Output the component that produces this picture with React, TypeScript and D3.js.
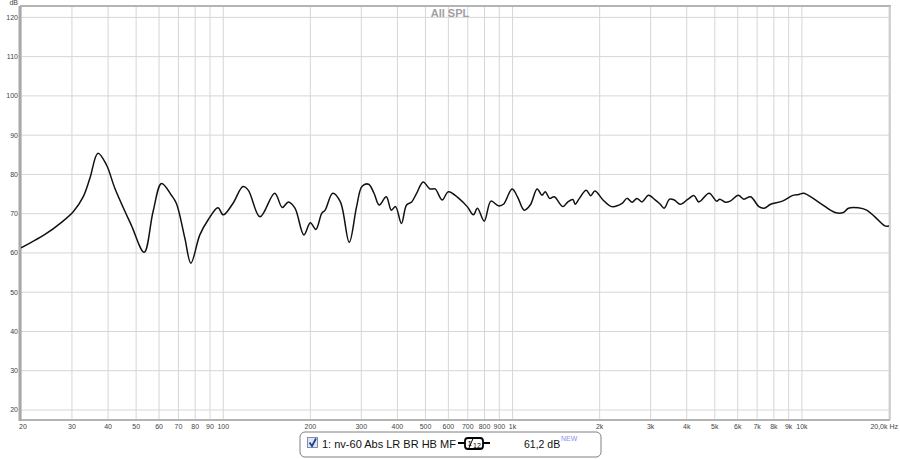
import React from "react";
import * as d3 from "d3";

const freqs = [
  20, 21.7, 24.2, 27.6, 30.3, 32.8, 34.6, 36.9, 39.5, 42.2, 48.1, 53.3, 57.2, 61.2, 66.2, 68.9, 73.7, 77.3, 83, 88.6,
  95.9, 100, 108, 117, 122, 134, 150.6, 160, 168, 177, 190, 200, 209, 219, 225, 239, 254, 272.6, 289, 302,
  318, 332, 346, 366, 381, 394, 413, 430, 448, 466, 491, 518, 540, 571, 600, 652, 697, 732, 756, 798,
  842, 894, 930, 996, 1040, 1097, 1151, 1216, 1264, 1298, 1343, 1394, 1492, 1548, 1616, 1646, 1702, 1796, 1862, 1926,
  2054, 2200, 2390, 2485, 2590, 2690, 2800, 2950, 3110, 3240, 3340, 3490, 3620, 3800, 4040, 4240, 4400, 4780, 5070, 5200,
  5440, 5650, 6030, 6300, 6650, 7100, 7400, 7800, 8560, 9260, 9750, 10140, 10840, 11720, 13020, 13900, 14480, 15660, 16740, 17880,
  19360, 20000,
];
const spl = [
  61.3, 62.7, 64.7, 67.8, 70.5, 74.3, 79.0, 85.4, 82.4, 76.5, 67.1, 60.2, 70.5, 77.7, 74.7, 72.6, 63.7, 57.4, 64.6, 68.4,
  71.5, 69.7, 72.6, 76.9, 76.0, 69.2, 75.2, 71.6, 73.0, 71.4, 64.6, 67.7, 66.0, 70.1, 70.9, 75.2, 73.0, 62.7, 71.8, 77.0,
  77.5, 75.2, 72.2, 74.3, 70.9, 71.8, 67.5, 72.2, 73.0, 75.2, 78.1, 76.3, 76.3, 73.5, 75.6, 73.9, 71.8, 69.7, 71.4, 68.1,
  73.2, 72.0, 72.4, 76.3, 74.3, 70.9, 72.2, 76.3, 74.7, 75.6, 73.9, 74.3, 71.8, 72.9, 73.6, 72.4, 73.9, 76.0, 74.6, 75.8,
  73.5, 71.8, 72.6, 73.9, 72.9, 73.9, 73.0, 74.7, 73.5, 72.4, 71.4, 73.7, 73.5, 72.4, 73.7, 74.6, 73.0, 75.2, 73.2, 73.7,
  72.9, 73.2, 74.7, 73.7, 74.3, 71.8, 71.4, 72.4, 73.2, 74.6, 74.9, 75.2, 74.1, 72.4, 70.3, 70.3, 71.4, 71.5, 70.9, 69.2,
  66.9, 66.9,
];

const xTickValues = [20, 30, 40, 50, 60, 70, 80, 90, 100, 200, 300, 400, 500, 600, 700, 800, 900, 1000, 2000, 3000, 4000, 5000, 6000, 7000, 8000, 9000, 10000];
const xTickLabels = ["20", "30", "40", "50", "60", "70", "80", "90", "100", "200", "300", "400", "500", "600", "700", "800", "900", "1k", "2k", "3k", "4k", "5k", "6k", "7k", "8k", "9k", "10k"];
const xGridValues = [...xTickValues, 20000];
const yTickValues = [20, 30, 40, 50, 60, 70, 80, 90, 100, 110, 120];

const title = "All SPL";
const legendLabel = "1: nv-60 Abs LR BR HB MF";
const legendValue = "61,2 dB";

export default function App() {
  const W = 900;
  const H = 459;
  const left = 21;
  const right = 889;
  const top = 6;
  const bottom = 420;
  const x = d3.scaleLog().domain([20, 20000]).range([left, right]);
  const y = d3.scaleLinear().domain([17.45, 122.9]).range([bottom, top]);
  const pts: [number, number][] = freqs.map((f, i) => [f, spl[i]]);
  const line = d3
    .line<[number, number]>()
    .x((d) => x(d[0]))
    .y((d) => y(d[1]))
    .curve(d3.curveCatmullRom.alpha(0.5));
  const font = "'Liberation Sans', Arial, sans-serif";

  return (
    <svg
      width={W}
      height={H}
      style={{ position: "absolute", left: 0, top: 0, background: "#fff" }}
      fontFamily={font}
    >
      <rect x={0} y={0} width={W} height={H} fill="#fff" />
      <defs>
        <clipPath id="plotclip">
          <rect x={left} y={top} width={right - left} height={bottom - top} />
        </clipPath>
        <clipPath id="legclip">
          <rect x={320} y={432} width={138} height={24} />
        </clipPath>
      </defs>
      {/* grid */}
      {yTickValues.map((v) => (
        <line key={"gy" + v} x1={left} x2={right} y1={y(v)} y2={y(v)} stroke="#d6d6d6" strokeWidth={1} />
      ))}
      {xGridValues.map((v) => (
        <line key={"gx" + v} x1={x(v)} x2={x(v)} y1={top} y2={bottom} stroke="#d6d6d6" strokeWidth={1} />
      ))}
      {/* frame */}
      <line x1={left - 1} x2={W - 9} y1={top} y2={top} stroke="#b4b4b4" strokeWidth={2} />
      <line x1={left - 1} x2={right + 1} y1={bottom} y2={bottom} stroke="#b4b4b4" strokeWidth={2} />
      <line x1={left - 1} x2={left - 1} y1={top} y2={bottom + 1} stroke="#a8a8a8" strokeWidth={3} />
      <line x1={right + 1} x2={right + 1} y1={top} y2={bottom} stroke="#c4c4c4" strokeWidth={1.5} />
      {/* title */}
      <text x={450} y={17} textAnchor="middle" fontSize={11} fontWeight="bold" fill="#a0a0a0">
        {title}
      </text>
      {/* y labels */}
      <text x={18} y={5} textAnchor="end" fontSize={7} fill="#444">dB</text>
      {yTickValues.map((v) => (
        <text key={"ty" + v} x={18} y={y(v) + 2.5} textAnchor="end" fontSize={7} fill="#444">
          {v}
        </text>
      ))}
      {/* x labels */}
      {xTickValues.map((v, i) => (
        <text key={"tx" + v} x={x(v) + (i === 0 ? 2 : 0)} y={429} textAnchor="middle" fontSize={7} fill="#444">
          {xTickLabels[i]}
        </text>
      ))}
      <text x={898} y={429} textAnchor="end" fontSize={7} fill="#444">20,0k Hz</text>
      {/* curve */}
      <path d={line(pts) || ""} fill="none" stroke="#111" strokeWidth={1.5} clipPath="url(#plotclip)" strokeLinejoin="round" />
      {/* legend */}
      <rect x={300} y={432} width={301} height={25} rx={5} ry={5} fill="#fff" stroke="#808080" strokeWidth={1} />
      <rect x={307.5} y={437.5} width={10} height={10} fill="#dfe6f0" stroke="#8090a8" strokeWidth={1} />
      <path d="M309.5 442.5 L312 446 L316 438.5" fill="none" stroke="#1c3f9a" strokeWidth={1.8} />
      <text x={322} y={447.5} fontSize={11} fill="#111" clipPath="url(#legclip)">
        {legendLabel}
      </text>
      <line x1={458} x2={466} y1={443} y2={443} stroke="#000" strokeWidth={2} />
      <line x1={482} x2={490} y1={443} y2={443} stroke="#000" strokeWidth={2} />
      <rect x={465} y={438} width={18} height={11} rx={3} ry={3} fill="#fff" stroke="#000" strokeWidth={1.8} />
      <text x={467.5} y={445.5} fontSize={8} fill="#000">1</text>
      <line x1={469} x2={473} y1={448} y2={438.5} stroke="#000" strokeWidth={1} />
      <text x={473} y={447.8} fontSize={7} fill="#000">12</text>
      <text x={524} y={447.5} fontSize={10.5} fill="#111">{legendValue}</text>
      <text x={561} y={441} fontSize={7} fill="#8c8cf0">NEW</text>
    </svg>
  );
}
